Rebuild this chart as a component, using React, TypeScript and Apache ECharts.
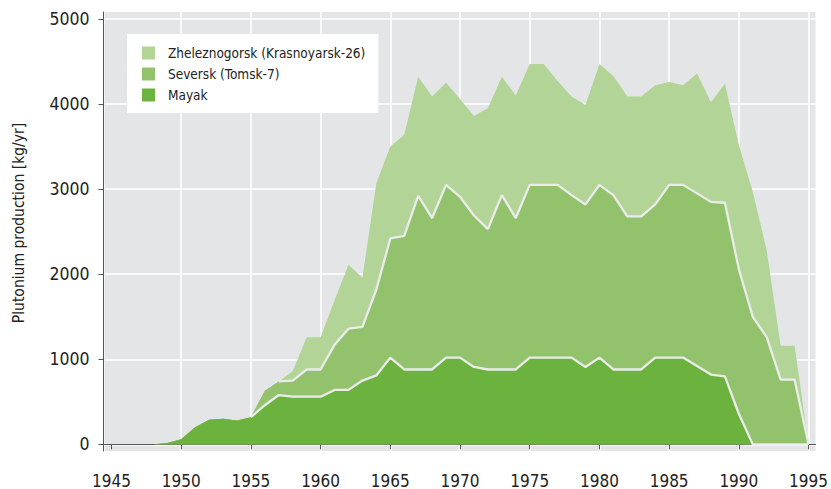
import { useEffect, useRef } from "react";
import * as echarts from "echarts";

const years = [
  1948, 1949, 1950, 1951, 1952, 1953, 1954, 1955, 1956, 1957,
  1958, 1959, 1960, 1961, 1962, 1963, 1964, 1965, 1966, 1967,
  1968, 1969, 1970, 1971, 1972, 1973, 1974, 1975, 1976, 1977,
  1978, 1979, 1980, 1981, 1982, 1983, 1984, 1985, 1986, 1987,
  1988, 1989, 1990, 1991, 1992, 1993, 1994, 1995,
];
const mayak = [
  0, 15, 60, 200, 290, 300, 280, 320, 460, 580,
  560, 560, 560, 640, 640, 750, 810, 1020, 880, 880,
  880, 1020, 1020, 910, 880, 880, 880, 1020, 1020, 1020,
  1020, 910, 1020, 880, 880, 880, 1020, 1020, 1020, 920,
  820, 800, 360, 0, 0, 0, 0, 0,
];
const seversk = [
  0, 0, 0, 0, 0, 0, 0, 0, 170, 160,
  190, 320, 320, 530, 720, 630, 1010, 1400, 1570, 2040,
  1780, 2030, 1890, 1780, 1650, 2050, 1780, 2030, 2030, 2030,
  1910, 1910, 2030, 2050, 1800, 1800, 1800, 2030, 2030, 2030,
  2030, 2040, 1700, 1500, 1260, 760, 760, 0,
];
const zheleznogorsk = [
  0, 0, 0, 0, 0, 0, 0, 0, 0, 0,
  110, 380, 380, 520, 750, 580, 1250, 1080, 1190, 1400,
  1430, 1200, 1150, 1170, 1420, 1390, 1440, 1420, 1420, 1220,
  1160, 1170, 1420, 1400, 1410, 1410, 1400, 1210, 1170, 1410,
  1170, 1400, 1460, 1470, 1020, 400, 400, 0,
];
const names = ["Mayak", "Seversk (Tomsk-7)", "Zheleznogorsk (Krasnoyarsk-26)"];
const xTickValues = [1945, 1950, 1955, 1960, 1965, 1970, 1975, 1980, 1985, 1990, 1995];
const xGridValues = [1950, 1955, 1960, 1965, 1970, 1975, 1980, 1985, 1990, 1995];
const yTickValues = [0, 1000, 2000, 3000, 4000, 5000];
const yTitle = "Plutonium production [kg/yr]";

const FONT = "'DejaVu Sans Condensed', 'DejaVu Sans', sans-serif";
const C_MAYAK = "#6CB23E";
const C_SEV = "#92C36C";
const C_ZHE = "#B2D497";
const PANEL = "#E4E5E7";
const AXIS = "#555555";
const TEXT = "#222222";
const EDGE = "#EBEBEB";

function boundary(base: number[], upper: number[]) {
  return years.map((y, i) => {
    const on = upper[i] > 0 || (upper[i - 1] ?? 0) > 0 || (upper[i + 1] ?? 0) > 0;
    return [y, on ? base[i] : null];
  });
}

export default function App() {
  const ref = useRef<HTMLDivElement>(null);
  useEffect(() => {
    document.body.style.margin = "0";
    if (!ref.current) return;
    const chart = echarts.init(ref.current, null, { renderer: "svg" });
    // cumulative tops of the stacked layers
    const cum1 = mayak.slice();
    const cum2 = mayak.map((v, i) => v + seversk[i]);
    const cum3 = cum2.map((v, i) => v + zheleznogorsk[i]);
    const layers = [
      { name: names[0], tops: cum1, color: C_MAYAK, z: 4 },
      { name: names[1], tops: cum2, color: C_SEV, z: 3 },
      { name: names[2], tops: cum3, color: C_ZHE, z: 2 },
    ];
    chart.setOption({
      animation: false,
      textStyle: { fontFamily: FONT },
      grid: {
        left: 104.5,
        right: 12,
        top: 12,
        bottom: 37,
        show: true,
        backgroundColor: PANEL,
        borderWidth: 0,
      },
      legend: {
        data: [names[2], names[1], names[0]],
        orient: "vertical",
        left: 127,
        top: 34,
        backgroundColor: "#ffffff",
        padding: [12, 13, 11, 15],
        itemWidth: 13,
        itemHeight: 13,
        itemGap: 7,
        icon: "rect",
        selectedMode: false,
        textStyle: { fontFamily: FONT, fontSize: 13.5, color: TEXT, padding: [0, 0, 0, 8] },
      },
      xAxis: [
        {
          type: "value",
          min: 1944.5,
          max: 1995.5,
          offset: 2,
          axisLine: { show: true, lineStyle: { color: AXIS, width: 1 } },
          axisTick: { show: true, length: 5, customValues: xTickValues, lineStyle: { color: AXIS } },
          axisLabel: {
            customValues: xTickValues,
            margin: 19,
            fontSize: 17,
            color: TEXT,
            fontFamily: FONT,
            formatter: (v: number) => String(v),
          },
          splitLine: { show: false },
        },
        {
          type: "value",
          min: 1944.5,
          max: 1995.5,
          position: "bottom",
          axisLine: { show: false },
          axisTick: { show: false, customValues: xGridValues },
          axisLabel: { show: false, customValues: xGridValues },
          splitLine: { show: true, lineStyle: { color: "#ffffff", width: 1.6 } },
        },
      ],
      yAxis: {
        type: "value",
        min: -78,
        max: 5082,
        offset: 1,
        axisLine: { show: true, lineStyle: { color: AXIS, width: 1 } },
        axisTick: { show: true, length: 5, customValues: yTickValues, lineStyle: { color: AXIS } },
        axisLabel: {
          customValues: yTickValues,
          margin: 14,
          fontSize: 17.5,
          color: TEXT,
          fontFamily: FONT,
          formatter: (v: number) => String(v),
        },
        splitLine: { show: true, lineStyle: { color: "#ffffff", width: 1.6 } },
      },
      graphic: [
        {
          type: "text",
          x: 19,
          y: 223,
          rotation: Math.PI / 2,
          style: {
            text: yTitle,
            fontFamily: FONT,
            fontSize: 15.5,
            fill: TEXT,
            align: "center",
            verticalAlign: "middle",
          },
        },
      ],
      series: [
        ...layers.map((l) => ({
          name: l.name,
          type: "line",
          xAxisIndex: 0,
          symbol: "none",
          z: l.z,
          data: years.map((y, i) => [y, l.tops[i]]),
          lineStyle: { width: 0, color: l.color },
          itemStyle: { color: l.color },
          areaStyle: { color: l.color, opacity: 1, origin: 0 },
        })),
        {
          name: "edge-mayak",
          type: "line",
          xAxisIndex: 0,
          symbol: "none",
          z: 6,
          silent: true,
          data: boundary(cum1, seversk),
          lineStyle: { width: 2.3, color: EDGE },
        },
        {
          name: "edge-seversk",
          type: "line",
          xAxisIndex: 0,
          symbol: "none",
          z: 6,
          silent: true,
          data: boundary(cum2, zheleznogorsk),
          lineStyle: { width: 2.3, color: EDGE },
        },
      ],
    });
    return () => chart.dispose();
  }, []);
  return <div ref={ref} style={{ width: 831, height: 489 }} />;
}
